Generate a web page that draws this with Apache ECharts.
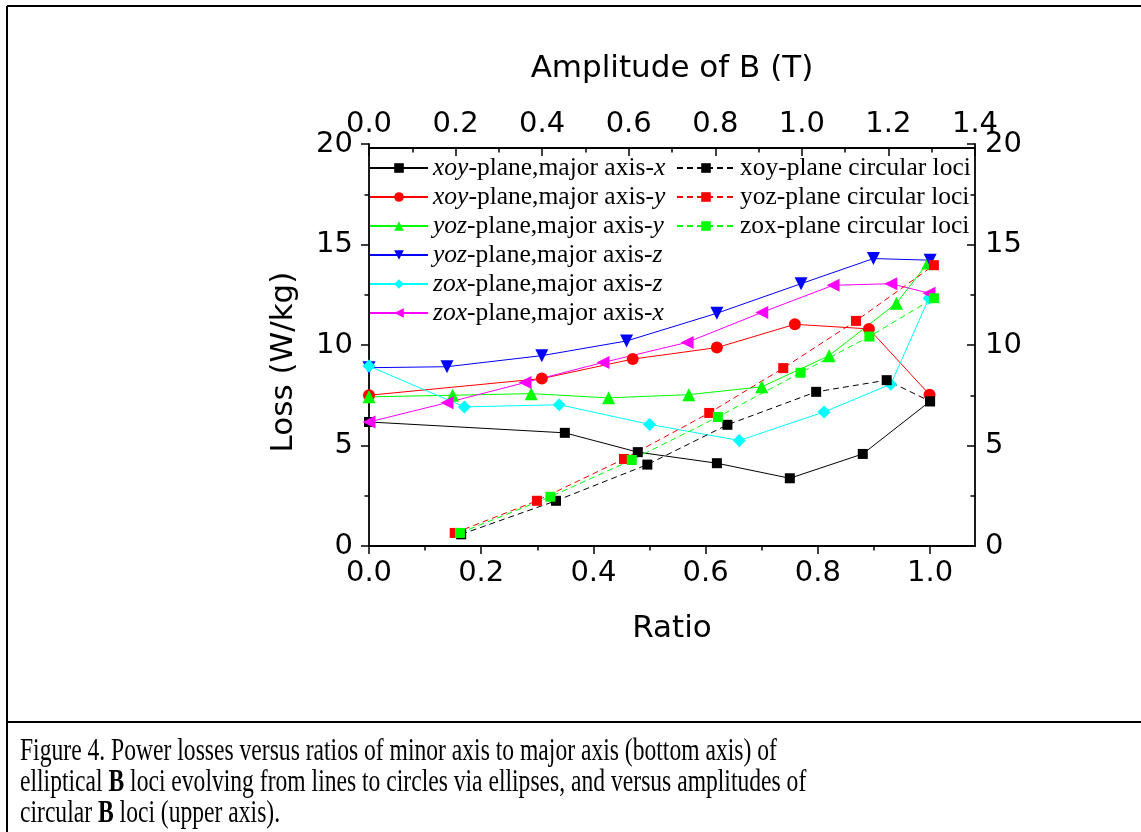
<!DOCTYPE html>
<html><head><meta charset="utf-8">
<script src="https://cdn.jsdelivr.net/npm/echarts@6/dist/echarts.min.js"></script>
<style>html,body{margin:0;padding:0;background:#fff}#c{width:1141px;height:832px}</style>
</head><body><div id="c"></div>
<script>
// ---- tick labels ----
const bottomTicks = [0, 0.2, 0.4, 0.6, 0.8, 1.0];
const bottomMinorTicks = [0.1, 0.3, 0.5, 0.7, 0.9];
const topTicks = [0, 0.2, 0.4, 0.6, 0.8, 1.0, 1.2, 1.4];
const lossTicks = [0, 5, 10, 15, 20];

// ---- elliptical loci (bottom axis: Ratio) ----
const ratioXoyX = [0, 0.349, 0.479, 0.62, 0.75, 0.88, 1.0];
const lossXoyX  = [6.17, 5.63, 4.67, 4.12, 3.37, 4.58, 7.2];
const ratioXoyY = [0, 0.308, 0.47, 0.62, 0.759, 0.891, 0.999];
const lossXoyY  = [7.5, 8.33, 9.3, 9.87, 11.03, 10.8, 7.53];
const ratioYozY = [0, 0.149, 0.289, 0.427, 0.57, 0.7, 0.82, 0.94, 0.996];
const lossYozY  = [7.42, 7.5, 7.58, 7.37, 7.53, 7.92, 9.47, 12.08, 14.08];
const ratioYozZ = [0, 0.139, 0.308, 0.459, 0.62, 0.77, 0.899, 1.0];
const lossYozZ  = [8.87, 8.92, 9.47, 10.2, 11.58, 13.05, 14.3, 14.22];
const ratioZoxZ = [0, 0.17, 0.339, 0.5, 0.66, 0.811, 0.93, 0.998];
const lossZoxZ  = [8.95, 6.92, 7.03, 6.05, 5.25, 6.67, 8.05, 12.33];
const ratioZoxX = [0, 0.139, 0.278, 0.417, 0.567, 0.7, 0.827, 0.93, 0.998];
const lossZoxX  = [6.17, 7.13, 8.13, 9.13, 10.13, 11.62, 12.97, 13.05, 12.58];

// ---- circular loci (top axis: Amplitude of B) ----
const ampXoyC  = [0.213, 0.432, 0.643, 0.828, 1.033, 1.196, 1.296];
const lossXoyC = [0.58, 2.25, 4.05, 6.03, 7.67, 8.25, 7.2];
const ampYozC  = [0.198, 0.388, 0.589, 0.786, 0.957, 1.125, 1.305];
const lossYozC = [0.65, 2.25, 4.33, 6.62, 8.85, 11.2, 13.97];
const ampZoxC  = [0.21, 0.419, 0.607, 0.806, 0.997, 1.156, 1.305];
const lossZoxC = [0.65, 2.45, 4.28, 6.42, 8.62, 10.42, 12.33];

const SANS = 'DejaVu Sans';
const SERIF = 'Liberation Serif';
const TRI_DOWN = 'path://M0,0 L10,0 L5,9 Z';
const TRI_LEFT = 'path://M0,5 L9,0 L9,10 Z';

function pairs(xs, ys) { return xs.map((x, i) => [x, ys[i]]); }
function ser(name, xs, ys, color, symbol, size, dashed) {
  return {
    type: 'line', name, data: pairs(xs, ys),
    xAxisIndex: dashed ? 1 : 0, yAxisIndex: 0,
    symbol, symbolSize: size, showSymbol: true,
    lineStyle: { color, width: 1, type: dashed ? [6, 4] : 'solid' },
    itemStyle: { color, borderWidth: 0 },
    animation: false, silent: true
  };
}

const series = [
  ser('xoy-plane,major axis-x', ratioXoyX, lossXoyX, '#000000', 'rect', 10, false),
  ser('xoy-plane,major axis-y', ratioXoyY, lossXoyY, '#ff0000', 'circle', 12, false),
  ser('yoz-plane,major axis-y', ratioYozY, lossYozY, '#00ff00', 'triangle', 13, false),
  ser('yoz-plane,major axis-z', ratioYozZ, lossYozZ, '#0000ff', TRI_DOWN, 13, false),
  ser('zox-plane,major axis-z', ratioZoxZ, lossZoxZ, '#00ffff', 'diamond', 13, false),
  ser('zox-plane,major axis-x', ratioZoxX, lossZoxX, '#ff00ff', TRI_LEFT, 13, false),
  ser('xoy-plane circular loci', ampXoyC, lossXoyC, '#000000', 'rect', 10, true),
  ser('yoz-plane circular loci', ampYozC, lossYozC, '#ff0000', 'rect', 10, true),
  ser('zox-plane circular loci', ampZoxC, lossZoxC, '#00ff00', 'rect', 10, true)
];

const legendText = {
  fontFamily: SERIF, fontSize: 25.5, color: '#000', lineHeight: 26,
  rich: { i: { fontFamily: SERIF, fontSize: 25.5, fontStyle: 'italic', color: '#000', lineHeight: 26 } }
};
function legend(names, left, itemWidth, italic) {
  return {
    orient: 'vertical', left, top: 155, padding: 0,
    itemWidth, itemHeight: 12, itemGap: 3,
    selectedMode: false, data: names,
    textStyle: legendText,
    formatter: italic
      ? (n => n.replace(/^(\w+)-plane,major axis-(\w)$/, '{i|$1}-plane,major axis-{i|$2}'))
      : (n => n)
  };
}

const axLine = { show: true, onZero: false, lineStyle: { color: '#000', width: 1.8 } };
const labelStyle = { fontFamily: SANS, fontSize: 29, color: '#000' };
const tickLine = { color: '#000', width: 1.5 };

const option = {
  backgroundColor: '#ffffff',
  animation: false,
  grid: { left: 369, right: 166, top: 144, bottom: 286, containLabel: false },
  legend: [
    legend(series.slice(0, 6).map(s => s.name), 369, 58, true),
    legend(series.slice(6).map(s => s.name), 676, 58, false)
  ],
  xAxis: [
    {
      type: 'value', position: 'bottom', min: 0, max: 1.08,
      axisLine: axLine,
      axisTick: { show: true, inside: false, length: 8, customValues: bottomTicks, lineStyle: tickLine },
      axisLabel: { ...labelStyle, margin: 13, customValues: bottomTicks, formatter: v => v.toFixed(1) },
      splitLine: { show: false },
      name: 'Ratio', nameLocation: 'middle', nameGap: 67,
      nameTextStyle: { fontFamily: SANS, fontSize: 31, color: '#000' }
    },
    {
      type: 'value', position: 'top', min: 0, max: 1.4, interval: 0.2, offset: -4,
      axisLine: axLine,
      axisTick: { show: true, inside: true, length: 8, lineStyle: tickLine },
      minorTick: { show: true, splitNumber: 2, length: 4.5, lineStyle: tickLine },
      axisLabel: { ...labelStyle, margin: 9, customValues: topTicks, formatter: v => v.toFixed(1) },
      splitLine: { show: false },
      name: 'Amplitude of B (T)', nameLocation: 'middle', nameGap: 64,
      nameTextStyle: { fontFamily: SANS, fontSize: 31, color: '#000' }
    },
    {
      type: 'value', position: 'bottom', min: 0, max: 1.08,
      axisLine: { show: false, onZero: false },
      axisTick: { show: true, inside: false, length: 4.5, customValues: bottomMinorTicks, lineStyle: tickLine },
      axisLabel: { show: false },
      splitLine: { show: false }
    }
  ],
  yAxis: [
    {
      type: 'value', position: 'left', min: 0, max: 20, interval: 5,
      axisLine: axLine,
      axisTick: { show: true, inside: false, length: 8, lineStyle: tickLine },
      minorTick: { show: true, splitNumber: 2, length: 4.5, lineStyle: tickLine },
      axisLabel: { ...labelStyle, margin: 16, customValues: lossTicks },
      splitLine: { show: false },
      name: 'Loss (W/kg)', nameLocation: 'middle', nameGap: 70, nameRotate: 90,
      nameTextStyle: { fontFamily: SANS, fontSize: 31, color: '#000', padding: [0, 34, 0, 0] }
    },
    {
      type: 'value', position: 'right', min: 0, max: 20, interval: 5,
      axisLine: axLine,
      axisTick: { show: true, inside: true, length: 8, lineStyle: tickLine },
      minorTick: { show: true, splitNumber: 2, length: 4.5, lineStyle: tickLine },
      axisLabel: { ...labelStyle, margin: 10, customValues: lossTicks },
      splitLine: { show: false }
    }
  ],
  series,
  graphic: [
    { type: 'line', shape: { x1: 7, y1: 6, x2: 1141, y2: 6 }, style: { stroke: '#000', lineWidth: 2 }, silent: true },
    { type: 'line', shape: { x1: 7, y1: 6, x2: 7, y2: 832 }, style: { stroke: '#000', lineWidth: 2 }, silent: true },
    { type: 'line', shape: { x1: 7, y1: 722, x2: 1141, y2: 722 }, style: { stroke: '#000', lineWidth: 2 }, silent: true },
    {
      type: 'text', x: 20, y: 736, scaleY: 1.33, silent: true,
      style: {
        text: '{n|Figure 4. Power losses versus ratios of minor axis to major axis (bottom axis) of}\n' +
              '{n|elliptical }{b|B}{n| loci evolving from lines to circles via ellipses, and versus amplitudes of}\n' +
              '{n|circular }{b|B}{n| loci (upper axis).}',
        fill: '#000',
        rich: {
          n: { fontFamily: SERIF, fontSize: 23.6, lineHeight: 23.5, fill: '#000' },
          b: { fontFamily: SERIF, fontSize: 23.6, lineHeight: 23.5, fontWeight: 'bold', fill: '#000' }
        }
      }
    }
  ]
};

const chart = echarts.init(document.getElementById('c'), null, { renderer: 'canvas' });
chart.setOption(option);
</script>
</body></html>
